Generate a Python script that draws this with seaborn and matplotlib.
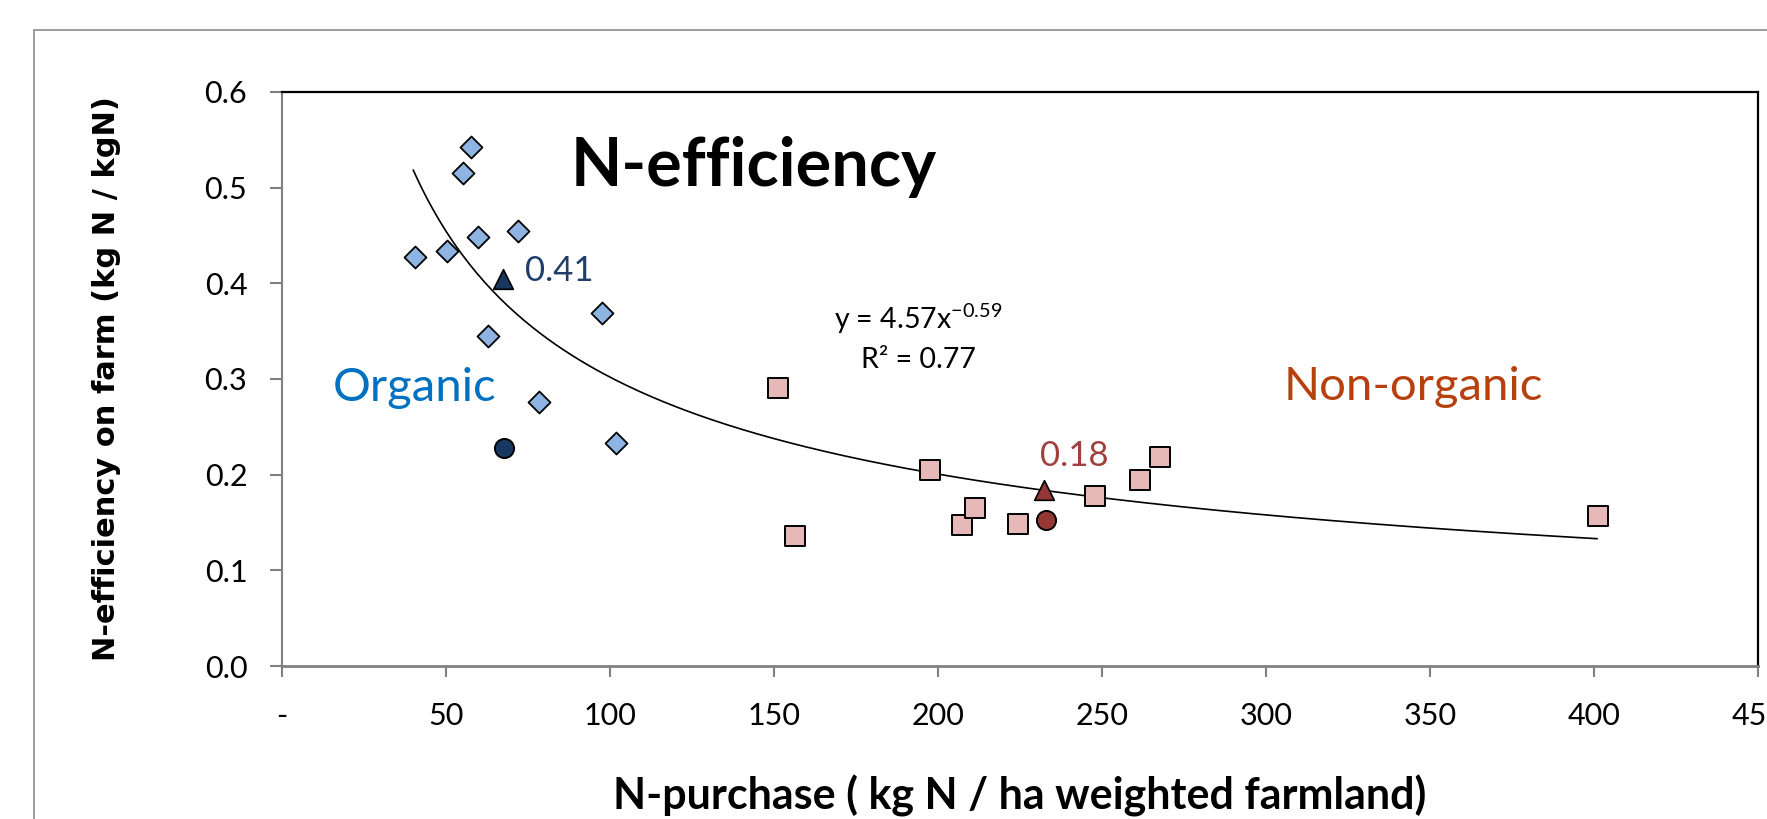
import numpy as np
import pandas as pd
import matplotlib
matplotlib.use("Agg")
import matplotlib.pyplot as plt
import seaborn as sns
from matplotlib.patches import Rectangle

# ---------------- data ----------------
organic_x = [40.6, 50.3, 55.1, 57.5, 59.9, 72.0, 62.7, 97.5, 78.2, 101.9]
organic_y = [0.427, 0.434, 0.515, 0.543, 0.448, 0.455, 0.345, 0.369, 0.276, 0.233]

nonorganic_x = [151.2, 156.3, 197.7, 207.3, 211.4, 224.5, 247.9, 261.7, 267.6, 401.2]
nonorganic_y = [0.291, 0.136, 0.205, 0.147, 0.165, 0.1485, 0.178, 0.1945, 0.218, 0.157]

org_tri_x, org_tri_y = [67.5], [0.404]
org_circ_x, org_circ_y = [67.8], [0.2275]
non_tri_x, non_tri_y = [232.4], [0.184]
non_circ_x, non_circ_y = [232.8], [0.153]

trend_a, trend_b = 4.57, -0.59
trend_xmin, trend_xmax = 40, 401

x_ticks = [0, 50, 100, 150, 200, 250, 300, 350, 400, 450]
x_ticklabels = ["-", "50", "100", "150", "200", "250", "300", "350", "400", "450"]
y_ticks = [0.0, 0.1, 0.2, 0.3, 0.4, 0.5, 0.6]
y_ticklabels = ["0.0", "0.1", "0.2", "0.3", "0.4", "0.5", "0.6"]

# ---------------- style ----------------
sns.set_theme(style="white")
plt.rcParams["font.family"] = ["Lato", "DejaVu Sans"]

fig = plt.figure(figsize=(17.67, 8.19), dpi=100)
ax = fig.add_axes([0.1596, 0.1868, 0.8353, 0.7009])

# outer frame (chart area border)
fig.patches.append(Rectangle((0.0192, -0.2), 1.2, 0.9634 + 0.2, transform=fig.transFigure,
                             fill=False, edgecolor="#8c8c8c", linewidth=1.2, zorder=0))

# trend line
tx = np.linspace(trend_xmin, trend_xmax, 300)
trend_df = pd.DataFrame({"x": tx, "y": trend_a * tx ** trend_b})
sns.lineplot(data=trend_df, x="x", y="y", ax=ax, color="black", linewidth=1.2, zorder=2)

# points
sns.scatterplot(x=organic_x, y=organic_y, ax=ax, marker="D", s=125, color="#8DB4E2",
                edgecolor="black", linewidth=1.3, zorder=3)
sns.scatterplot(x=nonorganic_x, y=nonorganic_y, ax=ax, marker="s", s=195, color="#E6B9B8",
                edgecolor="black", linewidth=1.4, zorder=3)
sns.scatterplot(x=org_tri_x, y=org_tri_y, ax=ax, marker="^", s=200, color="#17375E",
                edgecolor="black", linewidth=1.2, zorder=4)
sns.scatterplot(x=org_circ_x, y=org_circ_y, ax=ax, marker="o", s=190, color="#17375E",
                edgecolor="black", linewidth=1.4, zorder=4)
sns.scatterplot(x=non_tri_x, y=non_tri_y, ax=ax, marker="^", s=200, color="#953735",
                edgecolor="black", linewidth=1.2, zorder=4)
sns.scatterplot(x=non_circ_x, y=non_circ_y, ax=ax, marker="o", s=190, color="#953735",
                edgecolor="black", linewidth=1.4, zorder=4)

# axes
ax.set_xlim(0, 450)
ax.set_ylim(0, 0.6)
ax.set_xticks(x_ticks)
ax.set_xticklabels(x_ticklabels)
ax.set_yticks(y_ticks)
ax.set_yticklabels(y_ticklabels)
ax.tick_params(axis="both", which="major", labelsize=22, colors="#808080", labelcolor="black",
               width=1.5)
ax.tick_params(axis="x", direction="out", length=8, pad=18, bottom=True)
ax.tick_params(axis="y", direction="out", length=9, pad=16, left=True)

for side in ["top", "right"]:
    ax.spines[side].set_color("black")
    ax.spines[side].set_linewidth(1.6)
ax.spines["left"].set_color("#808080")
ax.spines["left"].set_linewidth(1.5)
ax.spines["bottom"].set_color("#808080")
ax.spines["bottom"].set_linewidth(2.0)

ax.set_xlabel("N-purchase ( kg N / ha weighted farmland)", fontsize=31, fontweight="bold",
              color="black", va="center")
ax.xaxis.set_label_coords(0.5, -0.2265)
ax.set_ylabel("N-efficiency on farm (kg N / kgN)", fontsize=22, fontweight="bold",
              color="black", family="DejaVu Sans", va="center")
ax.yaxis.set_label_coords(-0.1186, 0.5)

# texts
ax.text(143.9, 0.502, "N-efficiency", fontsize=48, fontweight="bold", color="black",
        ha="center", va="baseline")
ax.text(40.5, 0.277, "Organic", fontsize=34, color="#0070C0", ha="center", va="baseline")
ax.text(345, 0.278, "Non-organic", fontsize=34, color="#B7410E", ha="center", va="baseline")
ax.text(84.4, 0.402, "0.41", fontsize=25, color="#1F3F6A", ha="center", va="baseline")
ax.text(241.5, 0.209, "0.18", fontsize=25, color="#A0403E", ha="center", va="baseline")
ax.text(194, 0.352, r"y = 4.57x$^{\mathregular{-0.59}}$", fontsize=20.5, color="black",
        ha="center", va="baseline")
ax.text(194, 0.311, "R² = 0.77", fontsize=20.5, color="black", ha="center", va="baseline")

fig.savefig("out.png", dpi=100)
